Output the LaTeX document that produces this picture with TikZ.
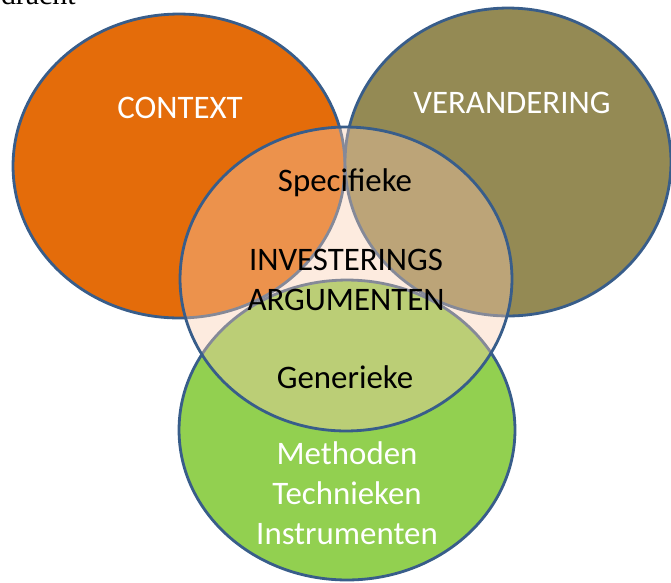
\documentclass[tikz,border=0pt]{standalone}
\usepackage{fontspec}
\setmainfont{Carlito}
\newfontfamily\pagefont{Liberation Serif}
\usetikzlibrary{shapes.geometric}

\definecolor{contextorange}{RGB}{228,108,10}
\definecolor{changeolive}{RGB}{148,138,84}
\definecolor{methodgreen}{RGB}{146,208,80}
\definecolor{rimblue}{RGB}{56,93,138}
\definecolor{peach}{RGB}{250,205,175}

\tikzset{
  set/.style={ellipse, draw=rimblue, line width=1.6pt, inner sep=0pt},
  lbl/.style={font=\fontsize{18.7}{22.7}\selectfont, align=center, anchor=base, inner sep=0pt}
}

\begin{document}
\begin{tikzpicture}[x=0.02cm, y=-0.02cm]
  \useasboundingbox (0,0) rectangle (671,582);

  % end of the line above, cut by the page edge
  \node[anchor=base east, inner sep=0pt, font=\pagefont\fontsize{17}{20}\selectfont] (prev) at (76,4) {dracht};

  % the three outer sets
  \node[set, fill=contextorange, minimum width=6.64cm, minimum height=6.08cm] (context) at (179,166) {};
  \node[set, fill=changeolive, minimum width=6.52cm, minimum height=6.16cm] (change) at (508,162) {};
  \node[set, fill=methodgreen, minimum width=6.72cm, minimum height=6.0cm] (methods) at (347,430) {};

  % the middle set, see-through
  \node[set, fill=peach, fill opacity=0.4, draw opacity=1, minimum width=6.64cm, minimum height=6.08cm] (args) at (346,279) {};

  % labels (base = last line)
  \node[lbl, white] (tcontext) at (180,118) {CONTEXT};
  \node[lbl, white] (tchange) at (512,113) {VERANDERING};
  \node[lbl] (tspec) at (345,191) {Specifieke};
  \node[lbl] (targs) at (346,310) {INVESTERINGS\\ARGUMENTEN};
  \node[lbl] (tgen) at (345,388) {Generieke};
  \node[lbl, white] (tmeth) at (347,544) {Methoden\\Technieken\\Instrumenten};
\end{tikzpicture}
\end{document}
